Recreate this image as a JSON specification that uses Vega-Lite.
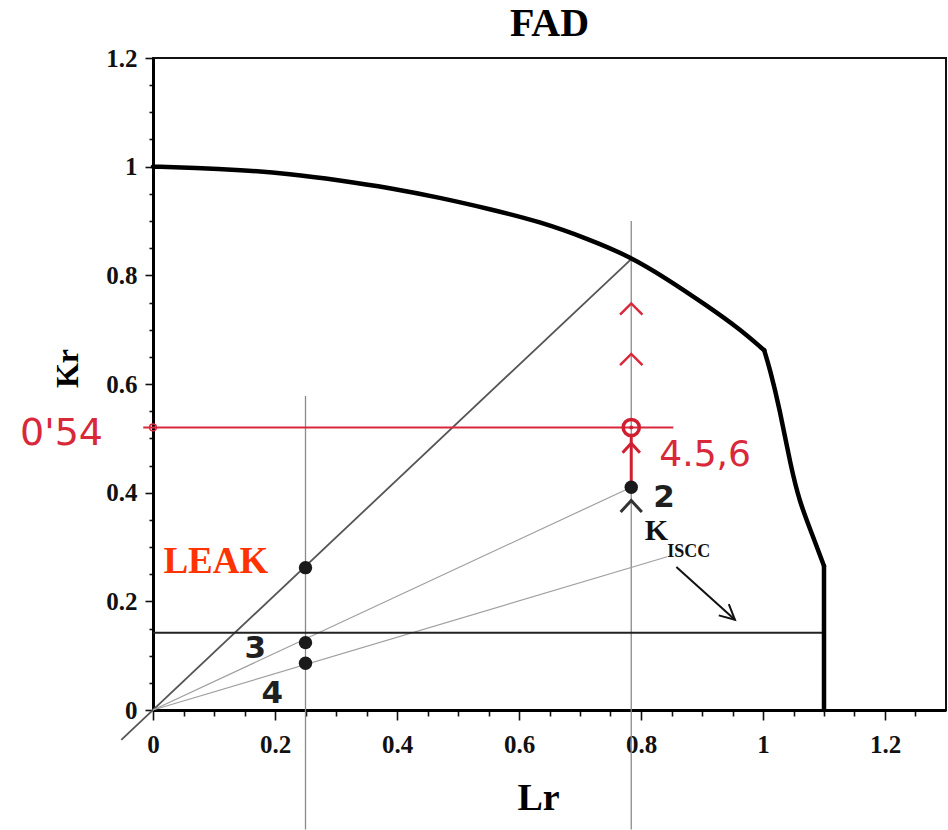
{
  "$schema": "https://vega.github.io/schema/vega-lite/v6.json",
  "width": 793,
  "height": 652,
  "autosize": {"type": "none"},
  "padding": {"left": 153, "top": 58, "right": 2, "bottom": 120},
  "background": "white",
  "title": {"text": "FAD", "font": "Liberation Serif", "fontSize": 40, "fontWeight": "bold", "color": "#000", "anchor": "middle", "offset": 2},
  "config": {
    "view": {"stroke": "#111", "strokeWidth": 2},
    "axis": {"grid": false, "domainColor": "#000", "domainWidth": 3, "tickColor": "#111", "tickWidth": 1.6,
      "labelFont": "Liberation Serif", "labelFontSize": 25, "labelFontWeight": "bold", "labelColor": "#111",
      "titleFont": "Liberation Serif", "titleFontWeight": "bold", "titleColor": "#000", "labelFlush": false, "labelOverlap": false}
  },
  "encoding": {
    "x": {"field": "Lr", "type": "quantitative", "scale": {"domain": [0, 1.3], "nice": false, "zero": false},
      "axis": {"title": "Lr", "values": [0,0.05,0.1,0.15,0.2,0.25,0.3,0.35,0.4,0.45,0.5,0.55,0.6,0.65,0.7,0.75,0.8,0.85,0.9,0.95,1,1.05,1.1,1.15,1.2,1.25],
        "labelExpr": "indexof([0,0.2,0.4,0.6,0.8,1,1.2], datum.value) >= 0 ? format(datum.value, '~g') : ''",
        "tickSize": {"condition": {"test": "indexof([0,0.2,0.4,0.6,0.8,1,1.2], datum.value) >= 0", "value": 10}, "value": 6},
        "labelPadding": 12, "titleFontSize": 38, "titleX": 385, "titleY": 88, "titleAlign": "center", "titleBaseline": "middle", "titleAngle": 0}},
    "y": {"field": "Kr", "type": "quantitative", "scale": {"domain": [0, 1.2], "nice": false, "zero": false},
      "axis": {"title": "Kr", "values": [0,0.05,0.1,0.15,0.2,0.25,0.3,0.35,0.4,0.45,0.5,0.55,0.6,0.65,0.7,0.75,0.8,0.85,0.9,0.95,1,1.05,1.1,1.15,1.2],
        "labelExpr": "indexof([0,0.2,0.4,0.6,0.8,1,1.2], datum.value) >= 0 ? format(datum.value, '~g') : ''",
        "tickSize": {"condition": {"test": "indexof([0,0.2,0.4,0.6,0.8,1,1.2], datum.value) >= 0", "value": 8}, "value": 4},
        "labelPadding": 8, "titleFontSize": 32, "titleX": -86, "titleY": 310, "titleAlign": "center", "titleBaseline": "middle", "titleAngle": -90}}
  },
  "layer": [
    {"data": {"values": [{"Lr": 0.25, "Kr": 0.578, "Kr2": -0.22}, {"Lr": 0.784, "Kr": 0.9, "Kr2": -0.22}]},
      "mark": {"type": "rule", "color": "#8a8a8a", "strokeWidth": 1.3, "clip": false},
      "encoding": {"y2": {"field": "Kr2"}}},
    {"data": {"values": [{"Lr": -0.052, "Kr": -0.055, "Lr2": 0.784, "Kr2": 0.83}]},
      "mark": {"type": "rule", "color": "#555555", "strokeWidth": 1.8, "clip": false},
      "encoding": {"x2": {"field": "Lr2"}, "y2": {"field": "Kr2"}}},
    {"data": {"values": [{"Lr": 0, "Kr": 0, "Lr2": 0.784, "Kr2": 0.41}, {"Lr": 0, "Kr": 0, "Lr2": 0.843, "Kr2": 0.282}]},
      "mark": {"type": "rule", "color": "#a0a0a0", "strokeWidth": 1.2, "clip": false},
      "encoding": {"x2": {"field": "Lr2"}, "y2": {"field": "Kr2"}}},
    {"data": {"values": [{"Lr": 0, "Kr": 0.142, "Lr2": 1.1, "Kr2": 0.142}]},
      "mark": {"type": "rule", "color": "#222222", "strokeWidth": 2},
      "encoding": {"x2": {"field": "Lr2"}, "y2": {"field": "Kr2"}}},
    {"data": {"values": [
      {"seg": "a", "Lr": 0, "Kr": 1.0},
      {"seg": "a", "Lr": 0.07, "Kr": 0.998},
      {"seg": "a", "Lr": 0.142, "Kr": 0.994},
      {"seg": "a", "Lr": 0.224, "Kr": 0.987},
      {"seg": "a", "Lr": 0.306, "Kr": 0.975},
      {"seg": "a", "Lr": 0.388, "Kr": 0.961},
      {"seg": "a", "Lr": 0.47, "Kr": 0.943},
      {"seg": "a", "Lr": 0.552, "Kr": 0.922},
      {"seg": "a", "Lr": 0.634, "Kr": 0.899},
      {"seg": "a", "Lr": 0.716, "Kr": 0.866},
      {"seg": "a", "Lr": 0.781, "Kr": 0.835},
      {"seg": "a", "Lr": 0.842, "Kr": 0.794},
      {"seg": "a", "Lr": 0.907, "Kr": 0.745},
      {"seg": "a", "Lr": 0.961, "Kr": 0.702},
      {"seg": "a", "Lr": 1.002, "Kr": 0.662},
      {"seg": "b", "Lr": 1.002, "Kr": 0.662},
      {"seg": "b", "Lr": 1.011, "Kr": 0.629},
      {"seg": "b", "Lr": 1.027, "Kr": 0.556},
      {"seg": "b", "Lr": 1.045, "Kr": 0.451},
      {"seg": "b", "Lr": 1.06, "Kr": 0.383},
      {"seg": "b", "Lr": 1.079, "Kr": 0.328},
      {"seg": "b", "Lr": 1.1, "Kr": 0.265}
    ]},
      "mark": {"type": "line", "color": "#000000", "strokeWidth": 4.5, "interpolate": "basis", "strokeCap": "round"},
      "encoding": {"detail": {"field": "seg", "type": "nominal"}}},
    {"data": {"values": [{"Lr": 1.1, "Kr": 0.265, "Kr2": 0}]},
      "mark": {"type": "rule", "color": "#000000", "strokeWidth": 4.5, "strokeCap": "round"},
      "encoding": {"y2": {"field": "Kr2"}}},
    {"data": {"values": [{"Lr": -0.016, "Kr": 0.52, "Lr2": 0.853, "Kr2": 0.52}]},
      "mark": {"type": "rule", "color": "#d8283a", "strokeWidth": 2, "clip": false},
      "encoding": {"x2": {"field": "Lr2"}, "y2": {"field": "Kr2"}}},
    {"data": {"values": [{"Lr": 0, "Kr": 0.52}]},
      "mark": {"type": "point", "shape": "circle", "size": 45, "filled": false, "stroke": "#d8283a", "strokeWidth": 1.5, "opacity": 1, "clip": false}},
    {"data": {"values": [{"Lr": 0.784, "Kr": 0.41, "Kr2": 0.505}]},
      "mark": {"type": "rule", "color": "#d01f30", "strokeWidth": 3},
      "encoding": {"y2": {"field": "Kr2"}}},
    {"data": {"values": [{"Lr": 0.784, "Kr": 0.483}]},
      "mark": {"type": "point", "shape": "M -1 0.6 L 0 -0.5 L 1 0.6", "size": 300, "filled": false, "stroke": "#d01f30", "strokeWidth": 3, "opacity": 1}},
    {"data": {"values": [{"Lr": 0.784, "Kr": 0.645}, {"Lr": 0.784, "Kr": 0.738}]},
      "mark": {"type": "point", "shape": "M -1 0.5 L 0 -0.5 L 1 0.5", "size": 500, "filled": false, "stroke": "#d8283a", "strokeWidth": 2.5, "opacity": 1}},
    {"data": {"values": [{"Lr": 0.784, "Kr": 0.52}]},
      "mark": {"type": "point", "shape": "circle", "size": 260, "filled": false, "stroke": "#d01f30", "strokeWidth": 3.5, "opacity": 1}},
    {"data": {"values": [{"Lr": 0.784, "Kr": 0.52}]},
      "mark": {"type": "point", "shape": "circle", "size": 16, "filled": true, "color": "#d01f30", "opacity": 1}},
    {"data": {"values": [{"Lr": 0.25, "Kr": 0.262}, {"Lr": 0.25, "Kr": 0.124}, {"Lr": 0.25, "Kr": 0.086}, {"Lr": 0.784, "Kr": 0.41}]},
      "mark": {"type": "point", "shape": "circle", "size": 180, "filled": true, "color": "#1a1a1a", "opacity": 1}},
    {"data": {"values": [{"Lr": 0.784, "Kr": 0.376}]},
      "mark": {"type": "point", "shape": "M -1 0.6 L 0 -0.5 L 1 0.6", "size": 450, "filled": false, "stroke": "#333333", "strokeWidth": 3, "opacity": 1}},
    {"data": {"values": [{"Lr": 0.858, "Kr": 0.263, "Lr2": 0.954, "Kr2": 0.166}]},
      "mark": {"type": "rule", "color": "#111111", "strokeWidth": 2},
      "encoding": {"x2": {"field": "Lr2"}, "y2": {"field": "Kr2"}}},
    {"data": {"values": [{"Lr": 0.954, "Kr": 0.166}]},
      "mark": {"type": "point", "shape": "M -0.5 1 L 0 0 L 0.5 1", "size": 900, "angle": 132, "filled": false, "stroke": "#111111", "strokeWidth": 2, "opacity": 1}},
    {"data": {"values": [{"Lr": 0.103, "Kr": 0.253, "label": "LEAK"}]},
      "mark": {"type": "text", "font": "Liberation Serif", "fontWeight": "bold", "fontSize": 37, "color": "#ff3300", "align": "center", "baseline": "alphabetic"},
      "encoding": {"text": {"field": "label"}}},
    {"data": {"values": [{"Lr": -0.15, "Kr": 0.487, "label": "0'54"}]},
      "mark": {"type": "text", "font": "DejaVu Sans", "fontSize": 38, "color": "#d8283a", "align": "center", "baseline": "alphabetic", "clip": false},
      "encoding": {"text": {"field": "label"}}},
    {"data": {"values": [{"Lr": 0.83, "Kr": 0.45, "label": "4.5,6"}]},
      "mark": {"type": "text", "font": "DejaVu Sans", "fontSize": 36, "color": "#d8283a", "align": "left", "baseline": "alphabetic"},
      "encoding": {"text": {"field": "label"}}},
    {"data": {"values": [{"Lr": 0.82, "Kr": 0.374, "label": "2"}, {"Lr": 0.15, "Kr": 0.0965, "label": "3"}, {"Lr": 0.178, "Kr": 0.0136, "label": "4"}]},
      "mark": {"type": "text", "font": "DejaVu Sans", "fontWeight": "bold", "fontSize": 31, "color": "#1f1f1f", "align": "left", "baseline": "alphabetic"},
      "encoding": {"text": {"field": "label"}}},
    {"data": {"values": [{"Lr": 0.806, "Kr": 0.313, "label": "K"}]},
      "mark": {"type": "text", "font": "Liberation Serif", "fontWeight": "bold", "fontSize": 30, "color": "#111111", "align": "left", "baseline": "alphabetic"},
      "encoding": {"text": {"field": "label"}}},
    {"data": {"values": [{"Lr": 0.843, "Kr": 0.282, "label": "ISCC"}]},
      "mark": {"type": "text", "font": "Liberation Serif", "fontWeight": "bold", "fontSize": 18, "color": "#111111", "align": "left", "baseline": "alphabetic"},
      "encoding": {"text": {"field": "label"}}}
  ]
}
